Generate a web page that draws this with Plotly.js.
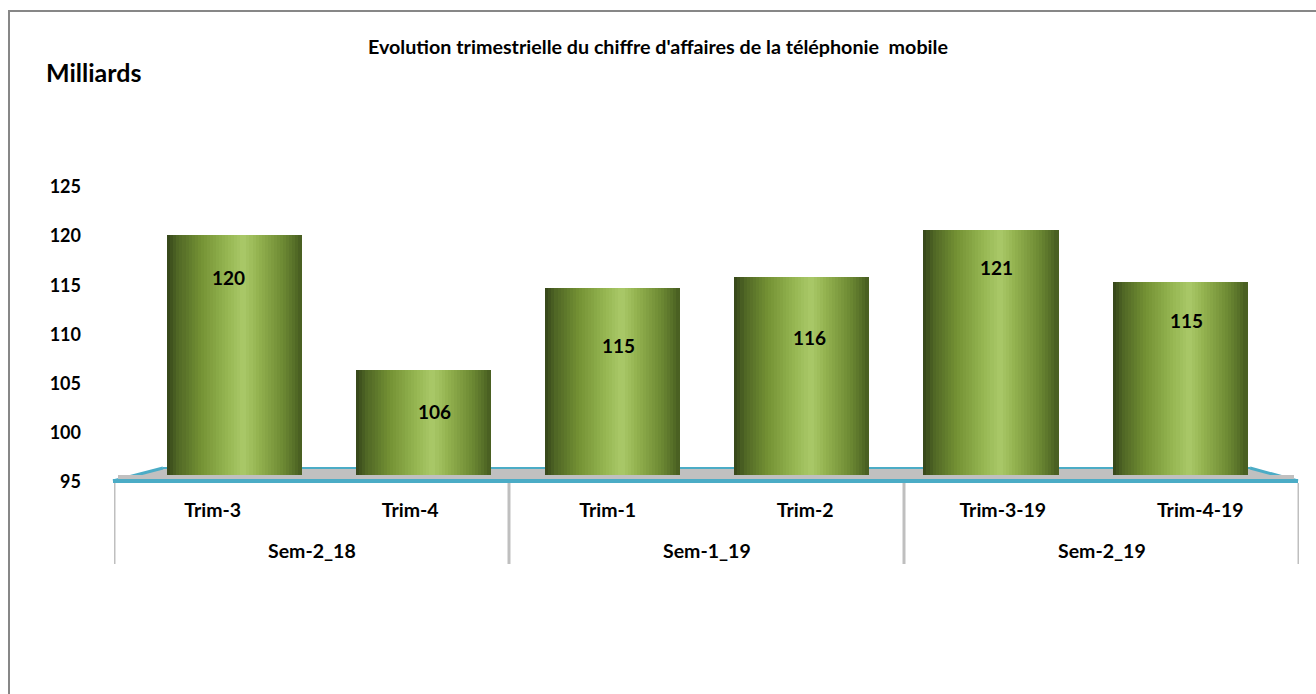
<!DOCTYPE html>
<html>
<head>
<meta charset="utf-8">
<script src="https://cdn.plot.ly/plotly-3.0.1.min.js"></script>
<style>html,body{margin:0;padding:0;background:#fff;}#chart{width:1316px;height:694px;}</style>
</head>
<body>
<div id="chart"></div>
<script>
// ---- data ----
const groups = ["Sem-2_18", "Sem-2_18", "Sem-1_19", "Sem-1_19", "Sem-2_19", "Sem-2_19"];
const trims = ["Trim-3", "Trim-4", "Trim-1", "Trim-2", "Trim-3-19", "Trim-4-19"];
const values = [120.1, 106.4, 114.7, 115.8, 120.6, 115.3];
const yTicks = [95, 100, 105, 110, 115, 120, 125];
const chartTitle = "Evolution trimestrielle du chiffre d'affaires de la téléphonie  mobile";
const unitLabel = "Milliards";

// ---- styles / geometry ----
const W = 1316, H = 694;
const L = 114, R = 17, T = 187, B = 212;
const plotW = W - L - R, plotH = H - T - B;
const px = x => (x - L) / plotW;          // pixel -> paper x
const py = y => (H - B - y) / plotH;      // pixel -> paper y
const FONT = "Lato, 'Open Sans', sans-serif";

// cylinder gradient stops (fraction across bar width)
const stops = [
  [0.00, [52, 68, 25]],
  [0.08, [80, 103, 37]],
  [0.25, [116, 146, 52]],
  [0.45, [150, 182, 82]],
  [0.57, [170, 201, 105]],
  [0.68, [147, 178, 79]],
  [0.85, [112, 141, 53]],
  [0.95, [86, 111, 40]],
  [1.00, [70, 91, 32]]
];
function colorAt(f) {
  for (let i = 0; i < stops.length - 1; i++) {
    const [f0, c0] = stops[i], [f1, c1] = stops[i + 1];
    if (f >= f0 && f <= f1) {
      const t = (f - f0) / (f1 - f0);
      const c = c0.map((v, k) => Math.round(v + (c1[k] - v) * t));
      return `rgb(${c[0]},${c[1]},${c[2]})`;
    }
  }
  return "rgb(70,91,32)";
}

const barW = 0.709;   // bar width in category units of x2
const N = 44;         // strips per cylinder
const baseVal = yTicks[0];
const traces = [];

// invisible trace that carries the category axis
traces.push({
  type: "bar", x: trims, y: values.map(v => v - baseVal), base: baseVal, xaxis: "x", yaxis: "y",
  marker: { color: "rgba(0,0,0,0)" }, hoverinfo: "skip", showlegend: false
});

for (let s = 0; s < N; s++) {
  const f = (s + 0.5) / N;
  traces.push({
    type: "bar", x: trims, y: values.map(v => v - baseVal), base: baseVal,
    xaxis: "x2", yaxis: "y",
    width: (barW / N) * 1.35,
    offset: -barW / 2 + (s / N) * barW,
    marker: { color: colorAt(f), line: { width: 0 } },
    hoverinfo: "skip", showlegend: false
  });
}

// data label offsets (pixels)
const labelDX = [-6, 11, 6, 8, 6, 7];
const labelDY = [-42, -42, -57, -60, -37, -38];

const BOLD = (size) => ({ family: FONT, size: size, color: "#000", weight: "bold" });

const annotations = values.map((v, i) => ({
  x: trims[i], xref: "x2", y: v, yref: "y",
  text: String(Math.round(v)), showarrow: false,
  xshift: labelDX[i], yshift: labelDY[i],
  font: BOLD(19)
}));
annotations.push({
  x: px(44), xref: "paper", y: py(72), yref: "paper", xanchor: "left", yanchor: "middle",
  text: unitLabel, showarrow: false, font: BOLD(25)
});

// group labels (second level of category axis) and dividers
const groupNames = [...new Set(groups)];
const dividerX = [-0.5];
groupNames.forEach(g => {
  const idx = groups.map((gg, i) => gg === g ? i : -1).filter(i => i >= 0);
  const mid = (idx[0] + idx[idx.length - 1]) / 2;
  annotations.push({
    x: mid, xref: "x", y: py(550), yref: "paper", yanchor: "middle",
    text: g, showarrow: false, font: BOLD(19.5)
  });
  dividerX.push(idx[idx.length - 1] + 0.5);
});

const blue = "#4bacc6", gray = "#c0c0c0";
const shapes = [
  // frame
  { type: "line", xref: "paper", yref: "paper", x0: px(8), x1: px(W), y0: py(11), y1: py(11), line: { color: "#878787", width: 2 } },
  { type: "line", xref: "paper", yref: "paper", x0: px(9), x1: px(9), y0: py(10), y1: py(H), line: { color: "#878787", width: 2 } },
  // floor (behind bars)
  { type: "path", xref: "paper", yref: "paper", layer: "below",
    path: `M ${px(113)} ${py(481)} L ${px(163)} ${py(468)} L ${px(1250)} ${py(468)} L ${px(1298)} ${py(481)} Z`,
    fillcolor: gray, line: { width: 0 } },
  { type: "line", xref: "paper", yref: "paper", layer: "below", x0: px(163), x1: px(1250), y0: py(468), y1: py(468), line: { color: blue, width: 2 } },
  { type: "line", xref: "paper", yref: "paper", layer: "below", x0: px(113), x1: px(163), y0: py(481), y1: py(468), line: { color: blue, width: 3 } },
  { type: "line", xref: "paper", yref: "paper", layer: "below", x0: px(1250), x1: px(1298), y0: py(468), y1: py(481), line: { color: blue, width: 3 } },
  // floor front strip (in front of bars)
  { type: "rect", xref: "paper", yref: "paper", layer: "above", x0: px(118), x1: px(1294), y0: py(475), y1: py(481), fillcolor: gray, line: { width: 0 } },
  { type: "line", xref: "paper", yref: "paper", layer: "above", x0: px(113), x1: px(1298), y0: py(481), y1: py(481), line: { color: blue, width: 4 } }
];
dividerX.forEach(d => shapes.push({
  type: "line", xref: "x", yref: "paper", x0: d, x1: d, y0: py(483), y1: py(564),
  line: { color: "#bfbfbf", width: 3 }
}));

const layout = {
  width: W, height: H,
  margin: { l: L, r: R, t: T, b: B, pad: 0 },
  paper_bgcolor: "#fff", plot_bgcolor: "rgba(0,0,0,0)",
  barmode: "overlay", bargap: 0,
  showlegend: false,
  title: { text: chartTitle, xref: "container", x: 0.5, xanchor: "center",
           yref: "container", y: 1 - 47 / H, yanchor: "middle",
           font: BOLD(19.7) },
  xaxis: {
    type: "category", categoryorder: "array", categoryarray: trims,
    range: [-0.5, 5.5], fixedrange: true,
    showgrid: false, zeroline: false, showline: false, ticks: "",
    ticklabelstandoff: 14,
    tickfont: BOLD(19.5)
  },
  xaxis2: {
    overlaying: "x", type: "category", categoryorder: "array", categoryarray: trims,
    range: [-0.636, 5.632], visible: false, fixedrange: true
  },
  yaxis: {
    range: [yTicks[0], yTicks[yTicks.length - 1]], tickvals: yTicks, fixedrange: true,
    showgrid: false, zeroline: false, showline: false, ticks: "",
    ticklabelstandoff: 32,
    tickfont: BOLD(18)
  },
  annotations: annotations,
  shapes: shapes
};

Plotly.newPlot("chart", traces, layout, { staticPlot: true, displayModeBar: false });
</script>
</body>
</html>
